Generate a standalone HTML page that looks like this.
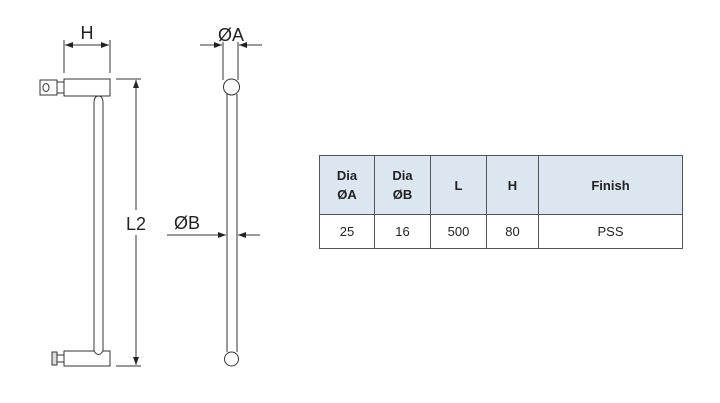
<!DOCTYPE html>
<html><head><style>
body{margin:0;width:720px;height:403px;background:#fff;overflow:hidden;position:relative;font-family:"Liberation Sans",sans-serif}
table{position:absolute;left:319px;top:155px;border-collapse:collapse;font-family:"Liberation Sans",sans-serif;font-size:13px;color:#222}
td{border:1px solid #555;text-align:center;padding:0}
tr.h td{background:#dce6f1;font-weight:bold;height:58px;line-height:19px}
tr.d td{height:33px}
</style></head><body>
<svg width="720" height="403" style="position:absolute;left:0;top:0" font-family="Liberation Sans, sans-serif">
<defs><marker id="a" markerWidth="8" markerHeight="6" refX="8" refY="3" orient="auto"><path d="M0,0L8,3L0,6z" fill="#222"/></marker></defs>
<g stroke="#333" stroke-width="1" fill="none">
<line x1="64" y1="40" x2="64" y2="73"/><line x1="110" y1="40" x2="110" y2="73"/>
<line x1="87" y1="45" x2="65" y2="45" marker-end="url(#a)"/><line x1="87" y1="45" x2="109" y2="45" marker-end="url(#a)"/>
<rect x="64" y="79" width="46" height="17" fill="#fff"/>
<rect x="40" y="80" width="17" height="15"/>
<rect x="57" y="82" width="7" height="11"/>
<ellipse cx="46" cy="87.5" rx="3" ry="4"/>
<path d="M94,353 V103 Q94,96 98.5,96 Q103,96 103,103 V353"/>
<path d="M64,351 H94 Q98.5,358 103,351 H110 V366 H64 Z" fill="#fff"/>
<rect x="52" y="352" width="5" height="13" fill="#ddd"/>
<rect x="57" y="355" width="7" height="7"/>
<line x1="116" y1="79" x2="141" y2="79"/><line x1="116" y1="366" x2="141" y2="366"/>
<line x1="136" y1="210" x2="136" y2="80" marker-end="url(#a)"/><line x1="136" y1="235" x2="136" y2="365" marker-end="url(#a)"/>
<line x1="223" y1="42" x2="223" y2="80"/><line x1="238" y1="42" x2="238" y2="80"/>
<line x1="200" y1="45" x2="222" y2="45" marker-end="url(#a)"/><line x1="262" y1="45" x2="239" y2="45" marker-end="url(#a)"/>
<line x1="227" y1="94" x2="227" y2="352"/><line x1="237" y1="94" x2="237" y2="352"/>
<circle cx="231.5" cy="87" r="8" fill="#fff"/>
<circle cx="231.5" cy="359" r="7" fill="#fff"/>
<line x1="167" y1="235" x2="226" y2="235" marker-end="url(#a)"/><line x1="260" y1="235" x2="238" y2="235" marker-end="url(#a)"/>
</g>
<g fill="#222" font-size="18">
<text x="87" y="39" text-anchor="middle">H</text>
<text x="231" y="41" text-anchor="middle">ØA</text>
<text x="136" y="230" text-anchor="middle">L2</text>
<text x="187" y="229" text-anchor="middle">ØB</text>
</g>
</svg>
<table>
<tr class="h"><td style="width:54px">Dia<br>ØA</td><td style="width:55px">Dia<br>ØB</td><td style="width:55px">L</td><td style="width:51px">H</td><td style="width:143px">Finish</td></tr>
<tr class="d"><td>25</td><td>16</td><td>500</td><td>80</td><td>PSS</td></tr>
</table>
</body></html>
